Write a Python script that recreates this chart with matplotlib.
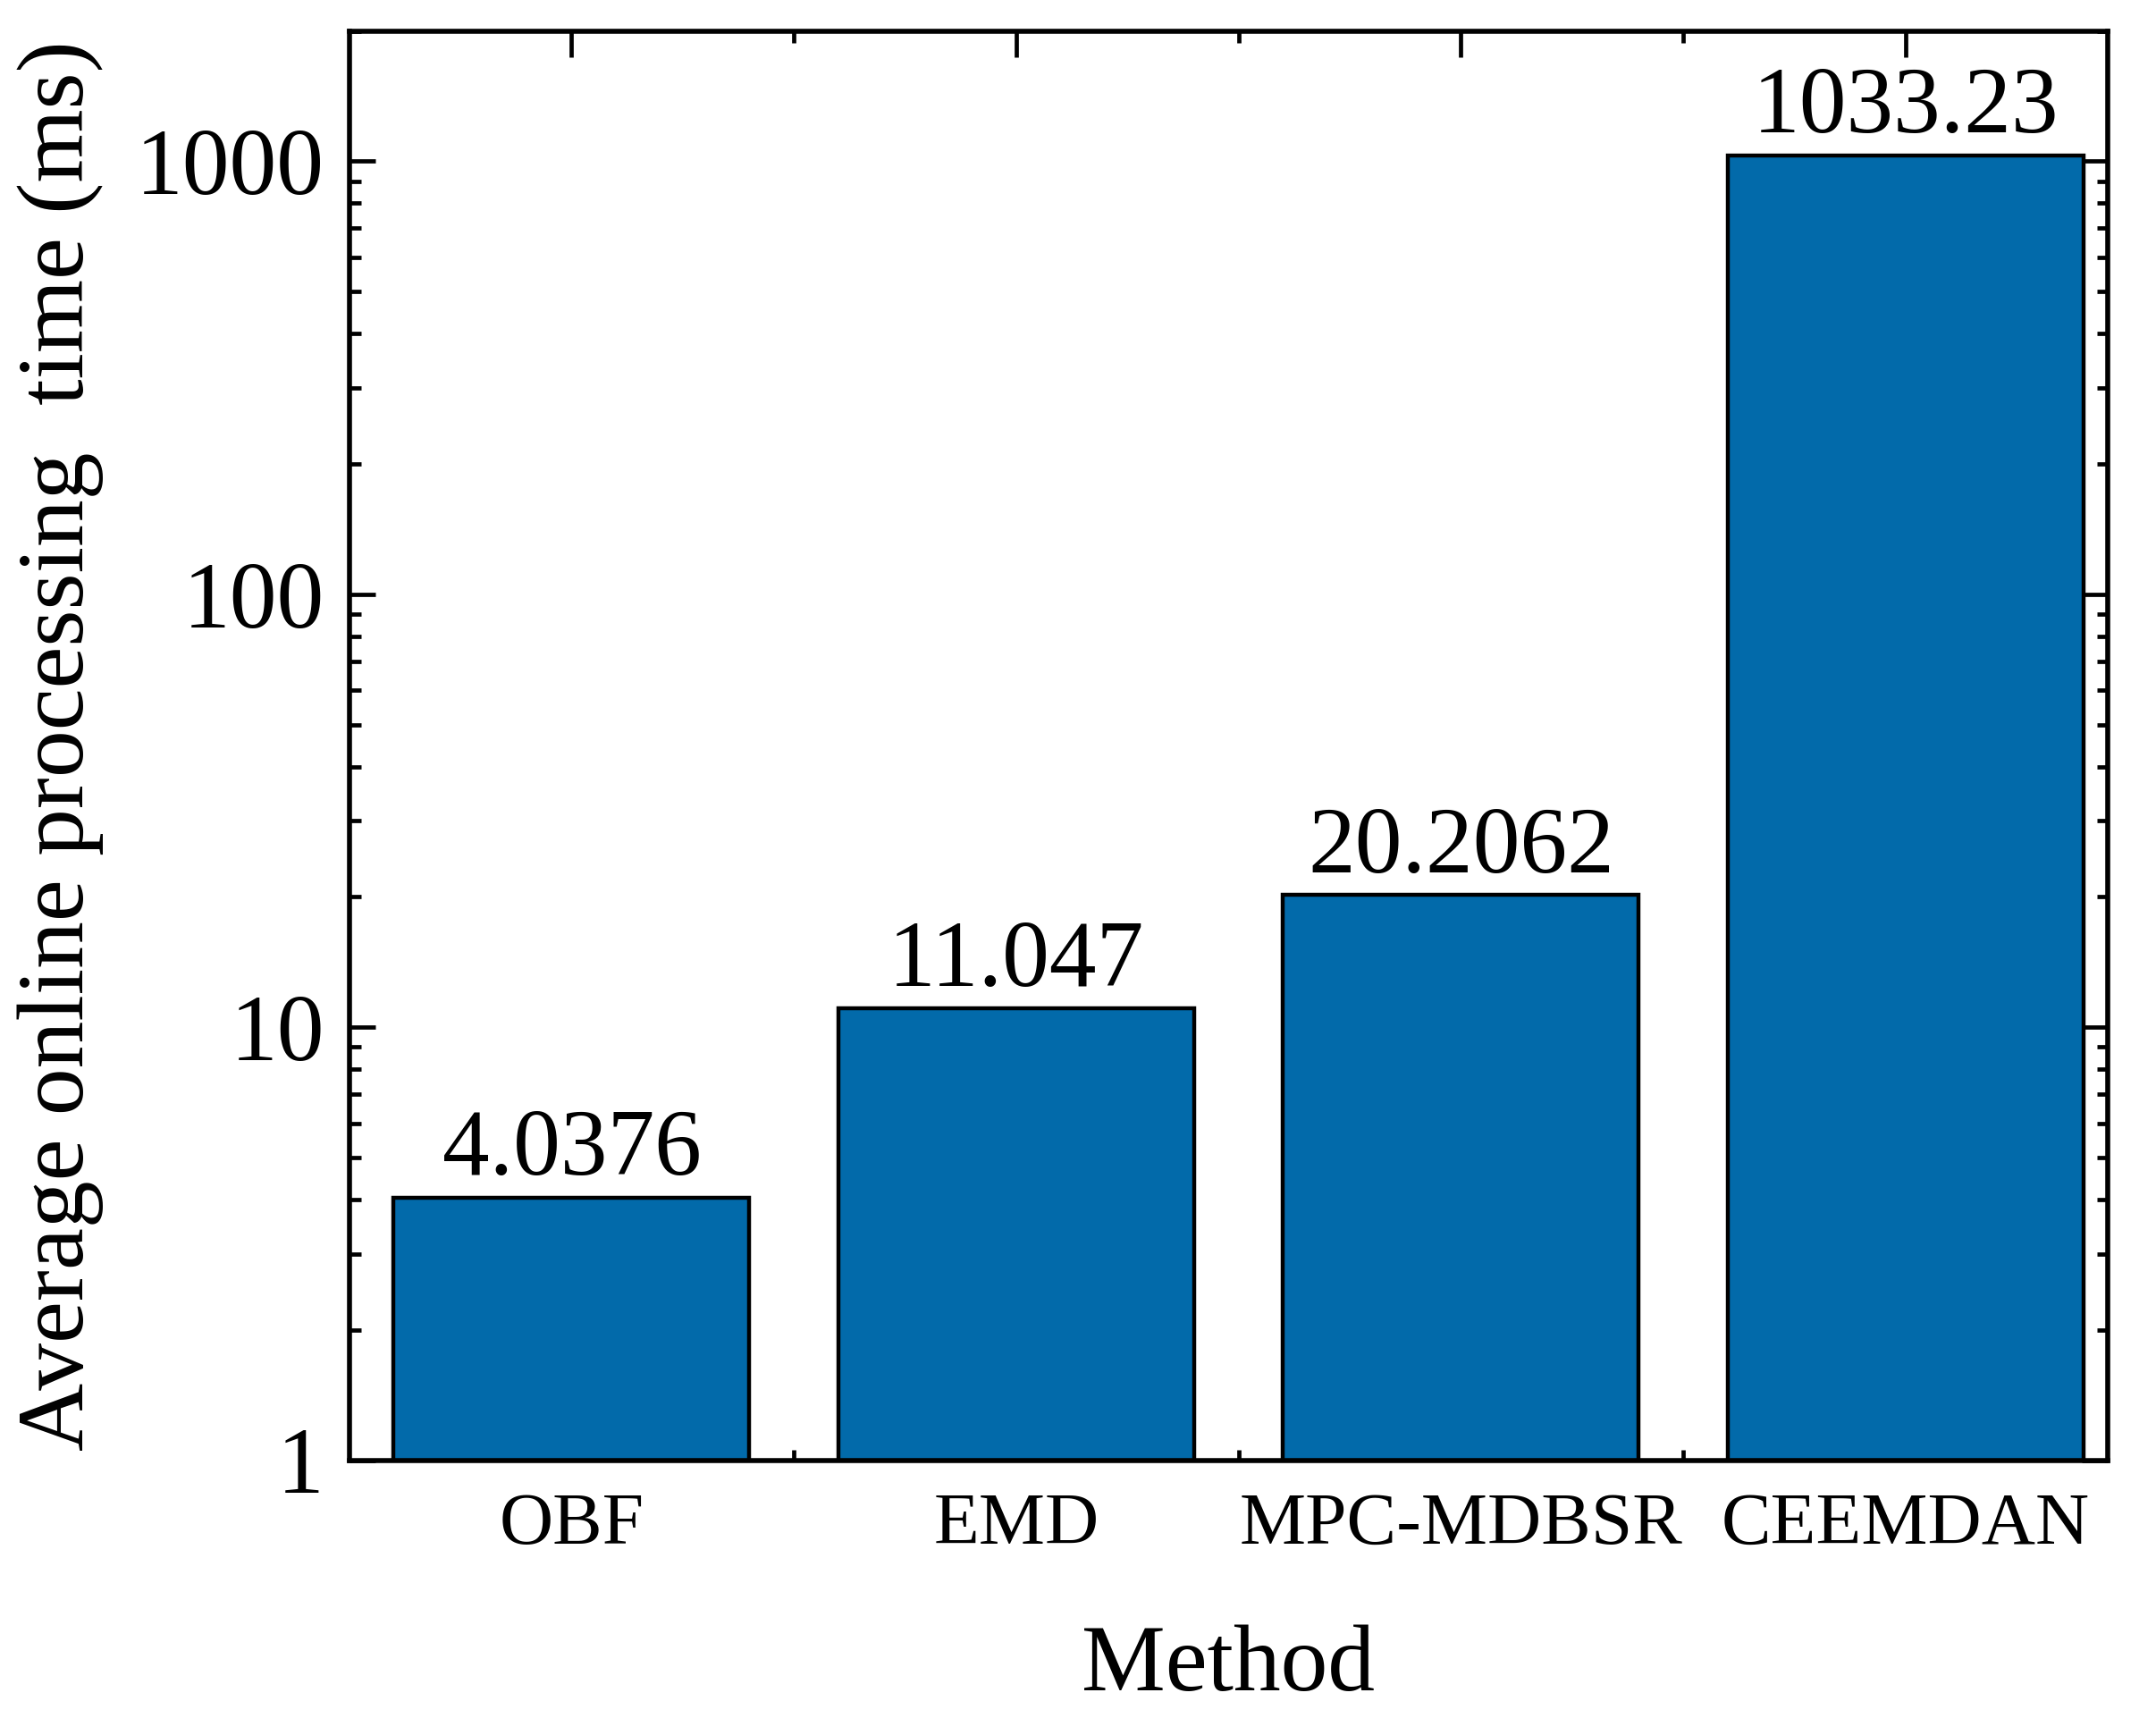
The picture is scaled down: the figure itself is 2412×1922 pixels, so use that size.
import matplotlib
matplotlib.use("Agg")
import matplotlib.pyplot as plt
from matplotlib.ticker import LogLocator, NullFormatter, FixedLocator

methods = ["OBF", "EMD", "MPC-MDBSR", "CEEMDAN"]
times = [4.0376, 11.047, 20.2062, 1033.23]
labels = ["4.0376", "11.047", "20.2062", "1033.23"]
yticks = [1, 10, 100, 1000]
ytick_labels = ["1", "10", "100", "1000"]

plt.rcParams['font.family'] = ['Liberation Serif', 'DejaVu Serif']
plt.rcParams['mathtext.fontset'] = 'stix'

fig = plt.figure(figsize=(12.06, 9.61), dpi=200)
ax = fig.add_axes([0.162, 0.150, 0.8155, 0.832])

x = list(range(len(methods)))
ax.bar(x, times, width=0.8, color='#026AAA', edgecolor='black', linewidth=1.6, zorder=2)
for xi, v, lab in zip(x, times, labels):
    ax.annotate(lab, (xi, v), xytext=(0, 1), textcoords='offset points',
                ha='center', va='bottom', fontsize=38)

ax.set_yscale('log')
ax.set_ylim(1, 2000)
ax.set_xlim(-0.5, 3.454)
ax.set_yticks(yticks)
ax.set_yticklabels(ytick_labels)
ax.yaxis.set_minor_locator(LogLocator(base=10, subs=range(2, 10)))
ax.yaxis.set_minor_formatter(NullFormatter())
ax.set_xticks(x)
ax.set_xticklabels(methods)
ax.xaxis.set_minor_locator(FixedLocator([0.5, 1.5, 2.5]))

ax.tick_params(axis='both', which='both', direction='in', top=True, right=True)
ax.tick_params(axis='y', which='major', length=10.5, width=1.7, labelsize=38, pad=10)
ax.tick_params(axis='y', which='minor', length=4.5, width=1.7)
ax.tick_params(axis='x', which='major', length=10.5, width=1.7, labelsize=30, pad=13)
ax.tick_params(axis='x', which='minor', length=4.5, width=1.7)
for s in ax.spines.values():
    s.set_linewidth(2.0)

ax.set_xlabel("Method", fontsize=38, labelpad=26)
ax.set_ylabel("Average online processing  time (ms)", fontsize=38, labelpad=13)

fig.savefig("out.png", dpi=200)
